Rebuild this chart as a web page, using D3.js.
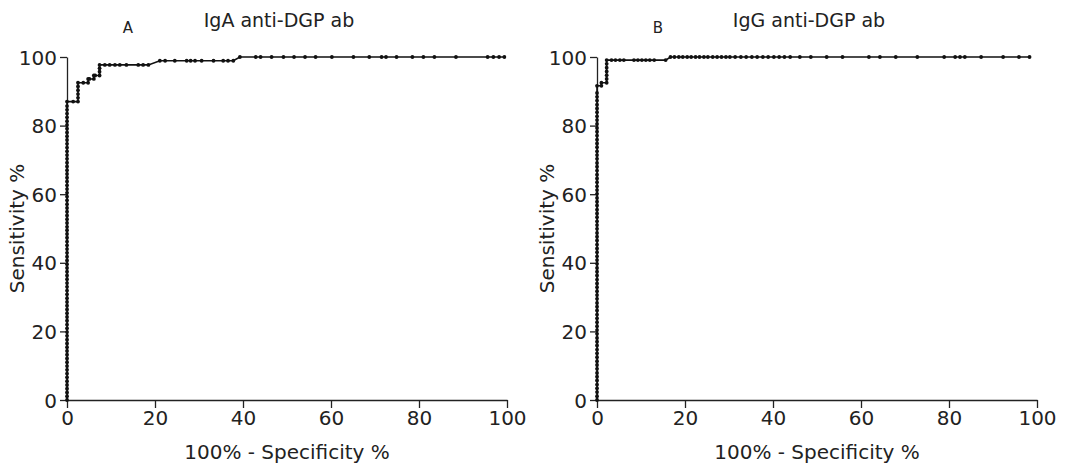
<!DOCTYPE html>
<html><head><meta charset="utf-8">
<script src="https://cdn.jsdelivr.net/npm/d3@7"></script>
<style>body{margin:0;background:#fff}svg{display:block}text{font-family:"DejaVu Sans",Verdana,sans-serif;fill:#222}</style>
</head><body><svg id="c" width="1065" height="464"></svg>
<script>
// Panel A: IgA anti-DGP ab (x = 100% - specificity, y = sensitivity)
const fprA = [0,0,0,0,0,0,0,0,0,0,0,0,0,0,0,0,0,0,0,0,0,0,0,0,0,0,0,0,0,0,0,0,0,0,0,0,0,0,0,0,0,0,0,0,0,0,0,0,0,0,0,0,0,0,0,0,0,0,0,0,0,0,0,0,0,0,0,0,0,0,0,0,0,0,0,0,0,0,0,0,
  1.4,2.5,2.5,2.5,2.5,2.5,2.5,3.7,4.8,4.8,5.1,6.1,6.1,6.4,7.4,7.4,7.4,7.4,8.6,9.7,10.9,12.0,13.5,16.2,17.3,18.5,
  21.1,22.3,24.5,27.2,28.1,29.1,30.6,33.3,35.5,36.6,37.8,
  39.3,42.9,44.0,46.5,49.2,51.6,54.1,56.5,60.2,65.1,68.7,71.5,72.5,74.9,78.5,81.0,83.5,88.4,95.6,96.9,98.2,99.4];
const sensA = [0,1.1,2.2,3.3,4.4,5.5,6.6,7.7,8.8,9.9,11,12.1,13.2,14.3,15.4,16.5,17.6,18.7,19.8,20.9,22,23.1,24.2,25.3,26.4,27.5,28.6,29.7,30.8,31.9,33,34.1,35.2,36.3,37.4,38.5,39.6,40.7,41.8,42.9,44,45.1,46.2,47.3,48.4,49.5,50.5,51.6,52.7,53.8,54.9,56,57.1,58.2,59.3,60.4,61.5,62.6,63.7,64.8,65.9,67,68.1,69.2,70.3,71.4,72.5,73.6,74.7,75.8,76.9,78,79.1,80.2,81.3,82.4,83.5,84.6,85.7,87,
  87,87,88.1,89.2,90.3,91.4,92.5,92.5,92.5,93.6,93.6,93.6,94.6,94.6,94.6,95.7,96.7,97.7,97.7,97.7,97.7,97.7,97.7,97.7,97.7,97.7,
  98.9,98.9,98.9,98.9,98.9,98.9,98.9,98.9,98.9,98.9,98.9,
  100,100,100,100,100,100,100,100,100,100,100,100,100,100,100,100,100,100,100,100,100,100];

// Panel B: IgG anti-DGP ab
const fprB = [0,0,0,0,0,0,0,0,0,0,0,0,0,0,0,0,0,0,0,0,0,0,0,0,0,0,0,0,0,0,0,0,0,0,0,0,0,0,0,0,0,0,0,0,0,0,0,0,0,0,0,0,0,0,0,0,0,0,0,0,0,0,0,0,0,0,0,0,0,0,0,0,0,0,0,0,0,0,0,0,0,
  1.0,1.0,2.2,2.2,2.2,2.2,2.2,2.2,2.2,3.3,4.2,5.2,6.1,8.4,9.3,10.2,11.1,12.0,13.0,15.6,
  16.7,17.6,18.6,19.5,20.5,21.4,22.4,23.3,24.3,25.2,26.3,27.3,28.3,29.3,30.2,31.4,32.7,33.9,35.2,36.4,37.7,38.9,40.2,41.4,42.6,43.9,46.1,48.6,52.2,55.8,61.8,64.3,67.9,72.8,78.9,81.4,82.5,83.6,87.3,92.3,95.9,98.3];
const sensB = [0,1.1,2.3,3.4,4.5,5.7,6.8,7.9,9.1,10.2,11.3,12.5,13.6,14.7,15.9,17,18.1,19.3,20.4,21.5,22.7,23.8,24.9,26.1,27.2,28.3,29.5,30.6,31.7,32.9,34,35.1,36.3,37.4,38.5,39.7,40.8,41.9,43.1,44.2,45.3,46.5,47.6,48.7,49.9,51,52.1,53.3,54.4,55.5,56.7,57.8,58.9,60.1,61.2,62.3,63.5,64.6,65.7,66.9,68,69.1,70.3,71.4,72.5,73.7,74.8,75.9,77.1,78.2,79.3,80.5,81.6,82.7,83.9,85,86.1,87.3,88.4,89.5,91.6,
  91.6,92.5,92.5,93.6,94.7,95.8,96.9,98.0,99.1,99.1,99.1,99.1,99.1,99.1,99.1,99.1,99.1,99.1,99.1,99.1,
  100,100,100,100,100,100,100,100,100,100,100,100,100,100,100,100,100,100,100,100,100,100,100,100,100,100,100,100,100,100,100,100,100,100,100,100,100,100,100,100,100,100,100,100,100,100];

const xTicks = [0,20,40,60,80,100];
const yTicks = [0,20,40,60,80,100];
const panels = [
  {letter:"A", title:"IgA anti-DGP ab", fpr:fprA, sens:sensA, x0:67},
  {letter:"B", title:"IgG anti-DGP ab", fpr:fprB, sens:sensB, x0:597}
];
const xLabel = "100% - Specificity %", yLabel = "Sensitivity %";

const svg = d3.select("#c");
const W = 440, yTop = 57, yBottom = 400;
panels.forEach(p => {
  const x = d3.scaleLinear().domain([0,100]).range([p.x0, p.x0+W]);
  const y = d3.scaleLinear().domain([0,100]).range([yBottom, yTop]);
  const g = svg.append("g");
  const xa = g.append("g").attr("transform",`translate(0,${yBottom})`)
    .call(d3.axisBottom(x).tickValues(xTicks).tickSize(8).tickPadding(3).tickSizeOuter(0));
  const ya = g.append("g").attr("transform",`translate(${p.x0},0)`)
    .call(d3.axisLeft(y).tickValues(yTicks).tickSize(7).tickPadding(3).tickSizeOuter(0));
  [xa,ya].forEach(a=>{
    a.selectAll("path,line").attr("stroke","#222").attr("stroke-width",1.3);
    a.selectAll("text").style("font-size","20px").attr("fill","#222");
    a.select(".domain").attr("stroke","#222");
  });
  ya.selectAll("text").attr("dy","0.35em");
  const pts = p.fpr.map((f,i)=>[f,p.sens[i]]);
  g.append("path").datum(pts)
    .attr("d", d3.line().x(d=>x(d[0])).y(d=>y(d[1])))
    .attr("fill","none").attr("stroke","#111").attr("stroke-width",1.6);
  g.selectAll("circle").data(pts).join("circle")
    .attr("cx",d=>x(d[0])).attr("cy",d=>y(d[1])).attr("r",1.9).attr("fill","#111");
  g.append("text").attr("x",p.x0+212).attr("y",27).attr("text-anchor","middle")
    .style("font-size","19px").text(p.title);
  g.append("text").attr("x",p.x0+61).attr("y",33).attr("text-anchor","middle")
    .style("font-size","15px").text(p.letter);
  g.append("text").attr("x",p.x0+W/2).attr("y",459).attr("text-anchor","middle")
    .style("font-size","20px").text(xLabel);
  g.append("text").attr("transform",`translate(${p.x0-43},${(yTop+yBottom)/2}) rotate(-90)`)
    .attr("text-anchor","middle").style("font-size","20px").text(yLabel);
});
</script></body></html>
